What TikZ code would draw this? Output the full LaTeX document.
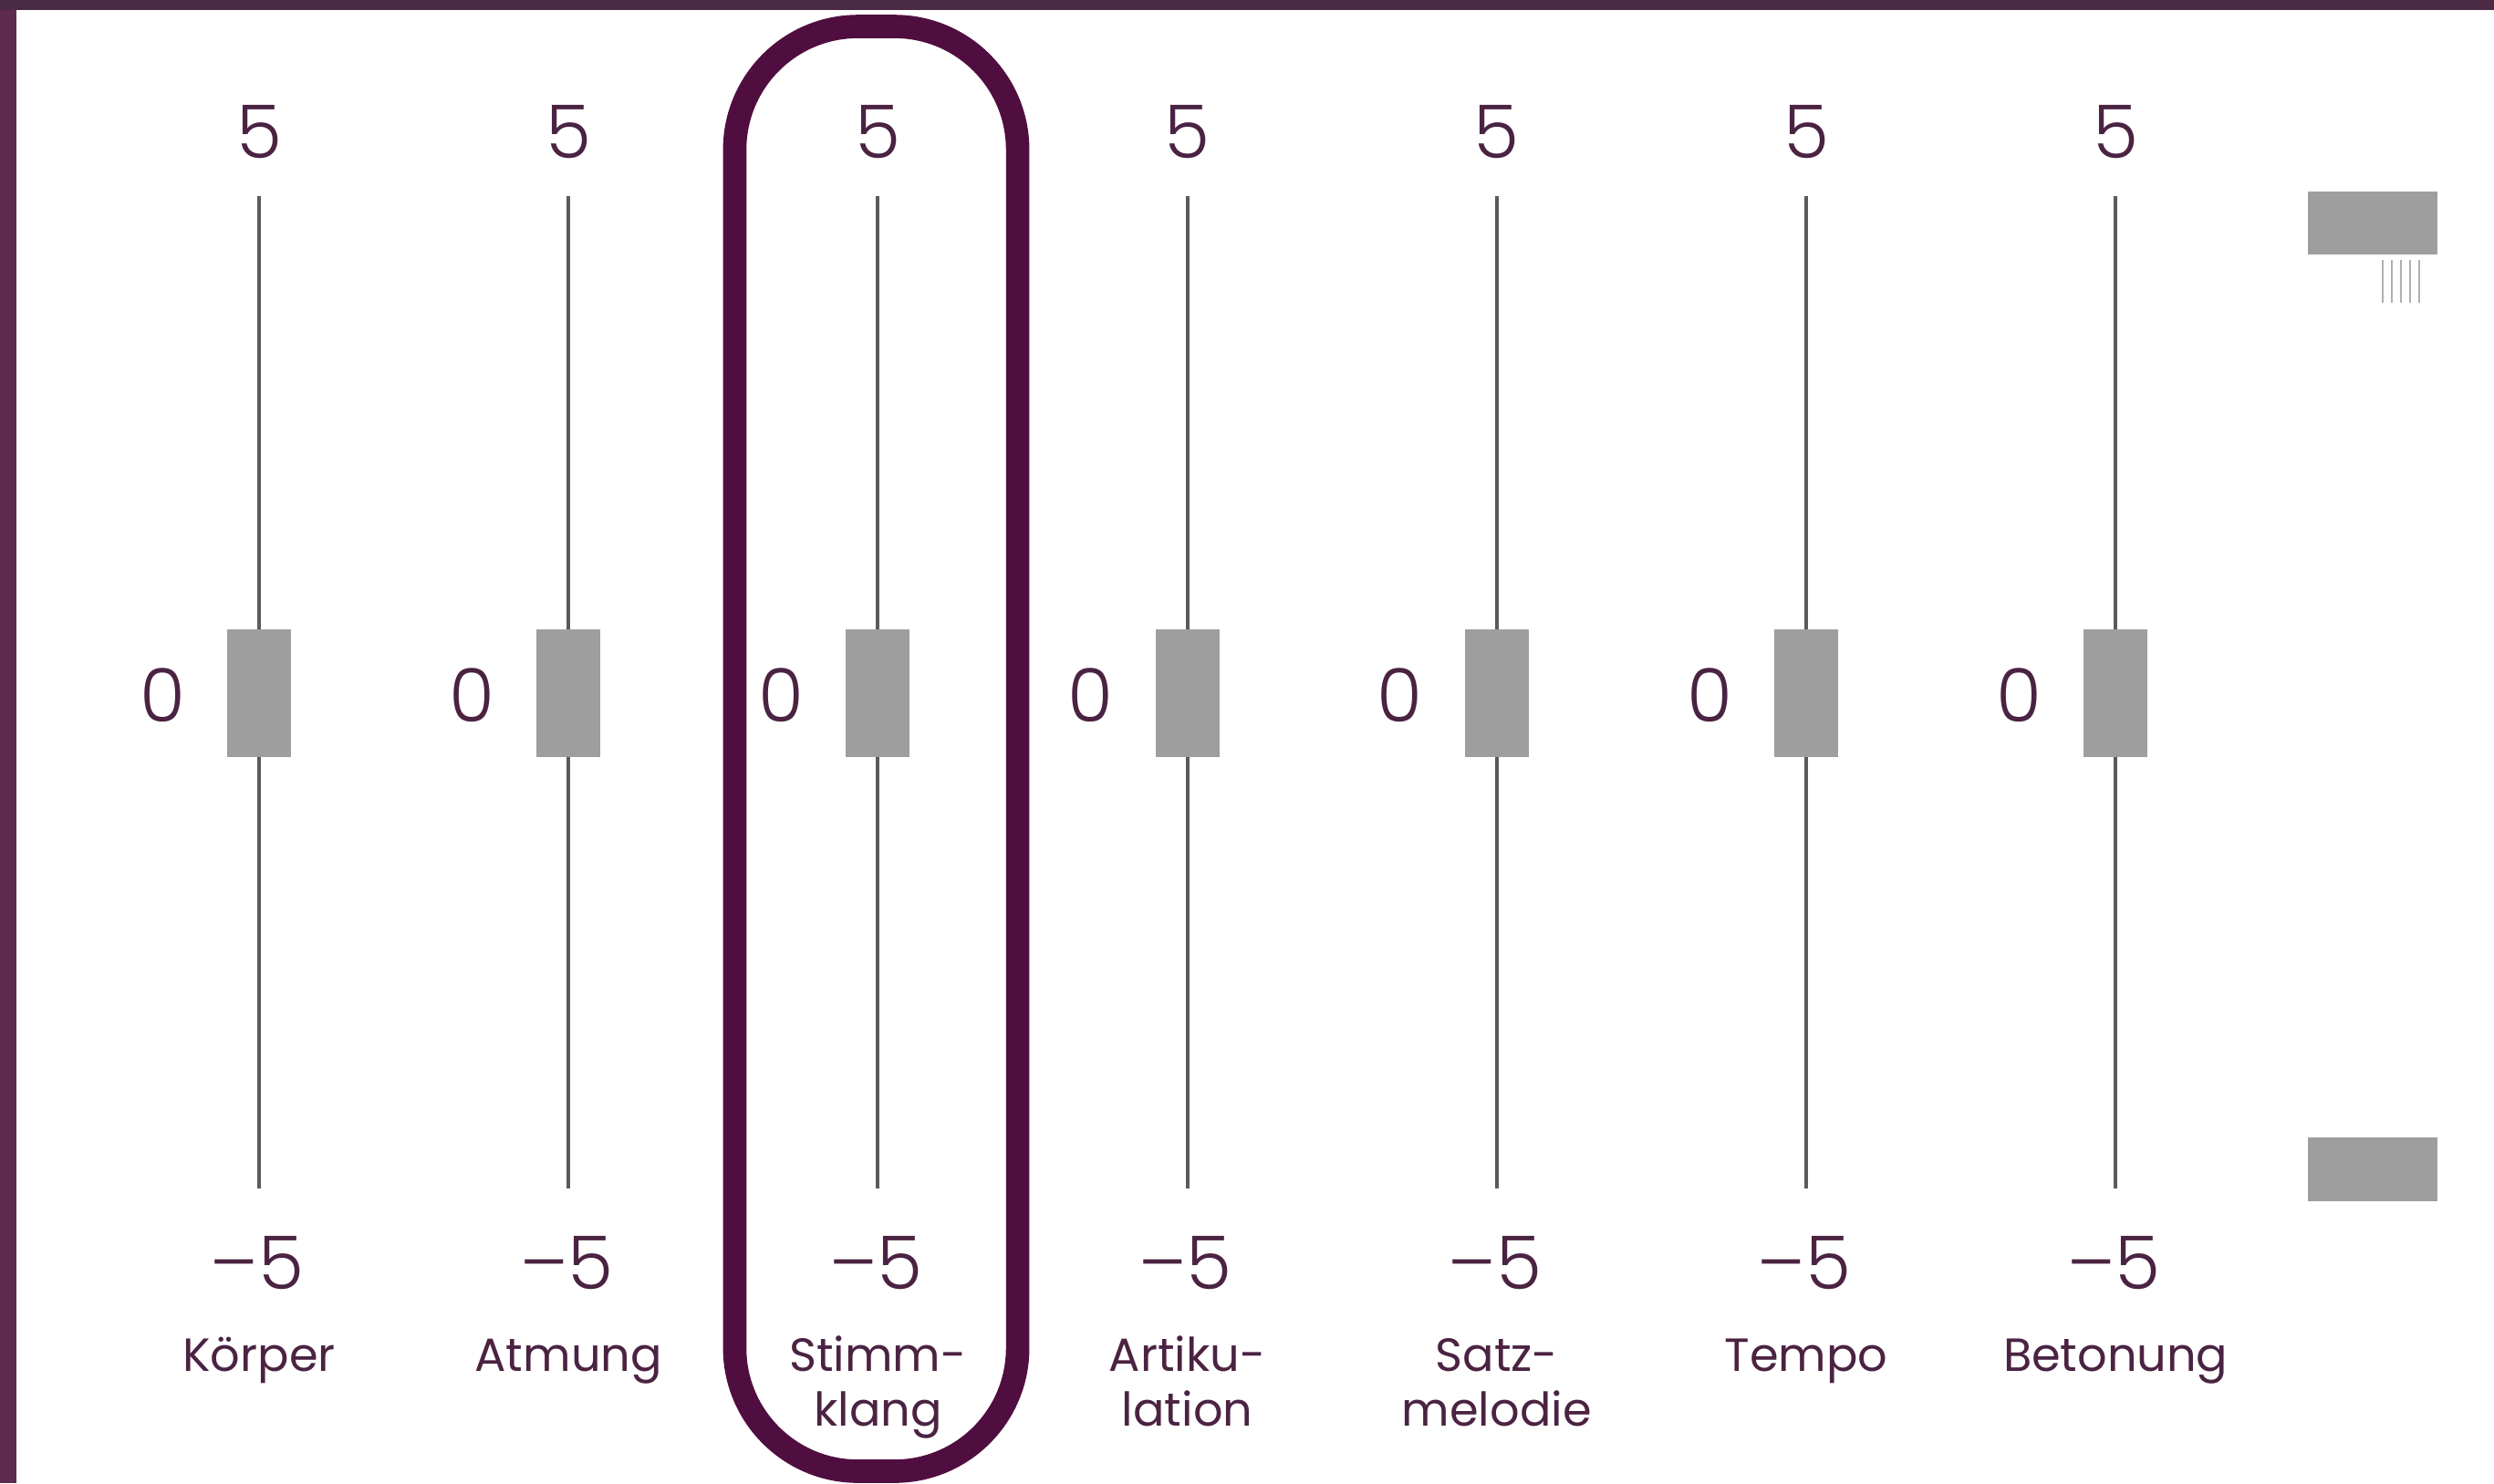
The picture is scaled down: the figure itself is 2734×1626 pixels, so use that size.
\documentclass[tikz,border=0pt]{standalone}
\usepackage{fontspec}
\setmainfont{Poppins}[UprightFont=* Light]
\newfontfamily\labfont{Poppins}
\definecolor{txt}{HTML}{4B2342}
\definecolor{framec}{HTML}{500E40}
\definecolor{barc}{HTML}{5E2A50}
\definecolor{topbar}{HTML}{4A2A45}
\definecolor{handlec}{HTML}{9E9E9E}
\definecolor{trackc}{HTML}{5A5A5A}
\definecolor{tickc}{HTML}{B0B0B0}
\begin{document}
\begin{tikzpicture}[x=0.01cm,y=-0.01cm,
  num/.style={text=txt,font=\fontsize{23}{27}\selectfont,inner sep=0},
  lab/.style={text=txt,font=\labfont\fontsize{14.5}{17}\selectfont,inner sep=0,anchor=base},
  knob/.style={fill=handlec,minimum width=0.7cm,minimum height=1.4cm,inner sep=0},
  scrollbox/.style={fill=handlec,minimum width=1.42cm,inner sep=0},
  trackline/.style={draw=trackc,line width=1.1pt},
  tickline/.style={draw=tickc,line width=0.6pt},
  highlight/.style={draw=framec,line width=7.3pt,rounded corners=1.35cm,inner sep=0}]
\useasboundingbox (0,0) rectangle (2734,1626);
\fill[white] (0,0) rectangle (2734,1626);
\fill[barc] (0,0) rectangle (18,1626);
\fill[topbar] (0,0) rectangle (2734,11);
\foreach \la/\lb [count=\i from 0] in {K\"orper/,Atmung/,Stimm-/klang,Artiku-/lation,Satz-/melodie,Tempo/,Betonung/}{
  \pgfmathsetmacro\xx{284+339.2*\i}
  \coordinate (t\i) at (\xx,215);
  \coordinate (b\i) at (\xx,1303);
  \draw[trackline] (t\i) -- (b\i);
  \node[knob] (k\i) at (\xx,760) {};
  \node[num] (top\i) at (\xx,145) {5};
  \node[num] (zero\i) at (\xx-106,762) {0};
  \node[num] (bot\i) at (\xx-2,1385) {–5};
  \node[lab] (la\i) at (\xx,1503) {\la};
  \node[lab] (lb\i) at (\xx,1563) {\lb};
}
\node[highlight,minimum width=3.1cm,minimum height=15.83cm] (hl) at (960.5,821) {};
\node[scrollbox,minimum height=0.68cm] (sc1) at (2601,244.5) {};
\foreach \tx [count=\j] in {2612,2622,2632,2642,2652}{
  \coordinate (ta\j) at (\tx,285);
  \coordinate (tb\j) at (\tx,332);
  \draw[tickline] (ta\j) -- (tb\j);
}
\node[scrollbox,minimum height=0.7cm] (sc2) at (2601,1282) {};
\end{tikzpicture}
\end{document}
